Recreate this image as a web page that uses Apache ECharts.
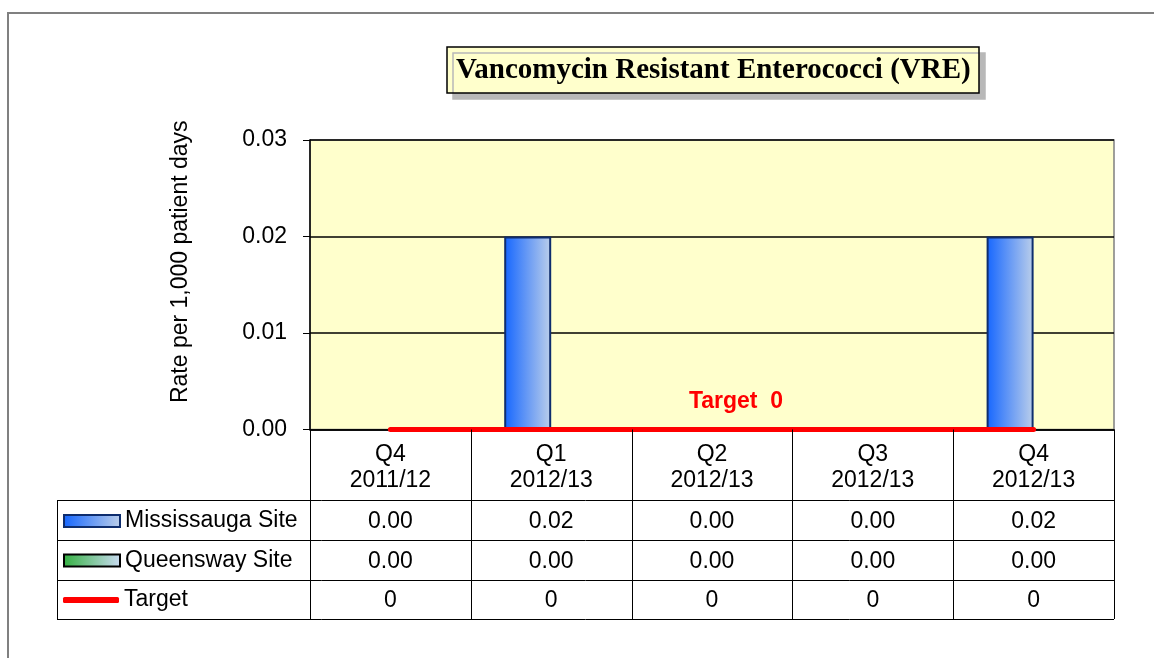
<!DOCTYPE html>
<html>
<head>
<meta charset="utf-8">
<script src="https://cdn.jsdelivr.net/npm/echarts@6/dist/echarts.min.js"></script>
<style>
html,body{margin:0;padding:0;background:#fff;}
#main{width:1154px;height:658px;}
</style>
</head>
<body>
<div id="main"></div>
<script>
// ---- data ----
const quarters = ['Q4', 'Q1', 'Q2', 'Q3', 'Q4'];
const years = ['2011/12', '2012/13', '2012/13', '2012/13', '2012/13'];
const mississauga = [0.00, 0.02, 0.00, 0.00, 0.02];
const queensway = [0.00, 0.00, 0.00, 0.00, 0.00];
const target = [0, 0, 0, 0, 0];
const seriesNames = ['Mississauga Site', 'Queensway Site', 'Target'];
const titleText = 'Vancomycin Resistant Enterococci (VRE)';
const yAxisName = 'Rate per 1,000 patient days';

const categories = quarters.map((q, i) => q + '\n' + years[i]);
const FONT = 'Liberation Sans, Arial, sans-serif';
const FS = 23;

const chart = echarts.init(document.getElementById('main'), null, {renderer: 'canvas'});

const missColor = new echarts.graphic.LinearGradient(0, 0, 1, 0, [
  {offset: 0, color: '#1566FF'}, {offset: 1, color: '#BCCFEA'}
]);
const queenColor = new echarts.graphic.LinearGradient(0, 0, 1, 0, [
  {offset: 0, color: '#33B040'}, {offset: 1, color: '#CCDCF4'}
]);

const rowCenters = [520, 559.5, 599];

function legendAt(name, i, extra) {
  return Object.assign({
    data: [name],
    orient: 'vertical',
    left: 63,
    top: rowCenters[i] - 11,
    padding: 0,
    itemWidth: 56,
    itemHeight: 12,
    selectedMode: false,
    textStyle: {fontFamily: FONT, fontSize: FS, color: '#000', lineHeight: 24}
  }, extra || {});
}

function barItem(v, border) {
  return v === 0 ? {value: v, itemStyle: {borderWidth: 0}} : {value: v, itemStyle: {borderWidth: border}};
}

chart.setOption({
  animation: false,
  backgroundColor: '#fff',
  title: {
    text: titleText,
    left: 447,
    top: 47,
    padding: [9, 9, 8, 9],
    backgroundColor: '#FFFFCC',
    borderColor: '#000',
    borderWidth: 1.5,
    shadowColor: '#B8B8B8',
    shadowOffsetX: 6,
    shadowOffsetY: 6,
    shadowBlur: 0,
    textStyle: {fontFamily: 'Liberation Serif, Times New Roman, serif', fontWeight: 'bold', fontSize: 29, color: '#000'}
  },
  legend: [
    legendAt(seriesNames[0], 0, {icon: 'rect', itemStyle: {borderColor: '#0E2D6E', borderWidth: 2}}),
    legendAt(seriesNames[1], 1, {icon: 'rect', itemStyle: {borderColor: '#000', borderWidth: 2}}),
    legendAt(seriesNames[2], 2, {data: [{name: seriesNames[2], icon: 'roundRect'}], itemHeight: 6})
  ],
  grid: {
    left: 310, right: 40, top: 140, bottom: 228.5,
    show: true,
    backgroundColor: '#FFFFCC',
    borderColor: '#808080',
    borderWidth: 1.5
  },
  xAxis: {
    type: 'category',
    data: categories,
    boundaryGap: true,
    axisLine: {show: true, lineStyle: {color: '#000', width: 1.5}},
    axisTick: {show: false},
    axisLabel: {
      interval: 0,
      margin: 12,
      fontFamily: FONT, fontSize: FS, color: '#000', lineHeight: 26, align: 'center'
    },
    splitLine: {show: false}
  },
  yAxis: {
    type: 'value',
    min: 0, max: 0.03, interval: 0.01,
    name: yAxisName,
    nameLocation: 'middle',
    nameRotate: 90,
    nameGap: 118,
    nameTextStyle: {fontFamily: FONT, fontSize: FS, color: '#000', padding: [0, 0, 0, 46]},
    axisLine: {show: true, lineStyle: {color: '#000', width: 1.5}},
    axisTick: {show: true, length: 7, lineStyle: {color: '#000', width: 1}},
    axisLabel: {
      margin: 23,
      formatter: v => v.toFixed(2),
      fontFamily: FONT, fontSize: FS, color: '#000'
    },
    splitLine: {show: true, lineStyle: {color: '#000', width: 1.5}}
  },
  series: [
    {
      name: seriesNames[0],
      type: 'bar',
      data: mississauga.map(v => barItem(v, 2)),
      barWidth: 47,
      barGap: '0%',
      itemStyle: {color: missColor, borderColor: '#0E2D6E', borderWidth: 2}
    },
    {
      name: seriesNames[1],
      type: 'bar',
      data: queensway.map(v => barItem(v, 2)),
      barWidth: 47,
      barGap: '0%',
      itemStyle: {color: queenColor, borderColor: '#000', borderWidth: 2}
    },
    {
      name: seriesNames[2],
      type: 'line',
      data: target.map((v, i) => i === 2 ? {
        value: v,
        label: {
          show: true,
          position: 'top',
          distance: 16,
          offset: [24, 0],
          formatter: p => 'Target  ' + p.value,
          fontFamily: FONT, fontSize: FS, fontWeight: 'bold', color: '#FF0000'
        }
      } : v),
      symbol: 'circle',
      symbolSize: 0,
      showSymbol: true,
      itemStyle: {color: '#FF0000'},
      lineStyle: {color: '#FF0000', width: 5, cap: 'round'},
      z: 5
    }
  ]
});

// ---- data table below the plot ----
function drawTable() {
  const n = categories.length;
  const c0 = chart.convertToPixel({xAxisIndex: 0}, 0);
  const c1 = chart.convertToPixel({xAxisIndex: 0}, 1);
  const band = c1 - c0;
  const xLeft = c0 - band / 2;
  const xRight = xLeft + band * n;
  const yBase = chart.convertToPixel({yAxisIndex: 0}, 0);
  const legendLeft = 57;
  const rowTops = [500, 540, 579.5];
  const tableBottom = 619;
  const els = [];
  const lineStyle = {stroke: '#000', lineWidth: 1};

  els.push({
    type: 'rect', silent: true, z: 0,
    shape: {x: 8, y: 13, width: 1200, height: 700},
    style: {fill: 'none', stroke: '#808080', lineWidth: 2}
  });
  // column boundaries
  for (let i = 0; i <= n; i++) {
    const x = Math.round(xLeft + band * i) + 0.5;
    els.push({type: 'line', silent: true, z: 10,
      shape: {x1: x, y1: yBase, x2: x, y2: tableBottom}, style: lineStyle});
  }
  els.push({type: 'line', silent: true, z: 10,
    shape: {x1: legendLeft + 0.5, y1: rowTops[0], x2: legendLeft + 0.5, y2: tableBottom}, style: lineStyle});
  rowTops.concat([tableBottom]).forEach(y => {
    els.push({type: 'line', silent: true, z: 10,
      shape: {x1: legendLeft, y1: Math.round(y) + 0.5, x2: xRight, y2: Math.round(y) + 0.5}, style: lineStyle});
  });
  const rows = [
    mississauga.map(v => v.toFixed(2)),
    queensway.map(v => v.toFixed(2)),
    target.map(v => String(v))
  ];
  rows.forEach((row, r) => {
    row.forEach((txt, i) => {
      els.push({type: 'text', silent: true, z: 10,
        x: xLeft + band * (i + 0.5), y: rowCenters[r] + 2,
        style: {text: txt, fill: '#000', font: FS + 'px ' + FONT, align: 'center', verticalAlign: 'middle'}
      });
    });
  });
  chart.setOption({graphic: els});
}
drawTable();
</script>
</body>
</html>
